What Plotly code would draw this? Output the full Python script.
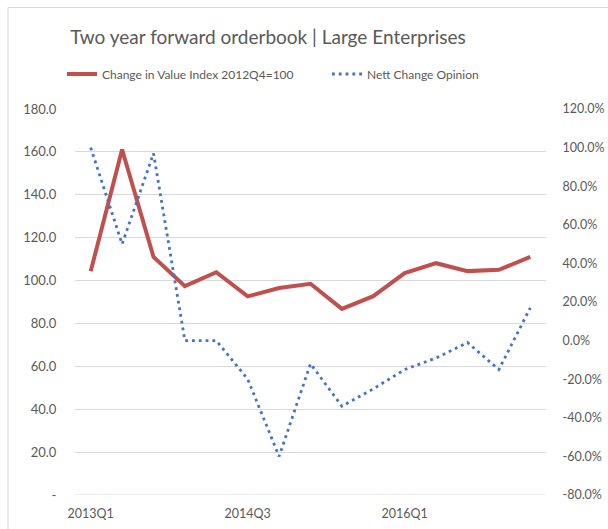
import plotly.graph_objects as go

categories = ["2013Q1", "2013Q2", "2013Q3", "2013Q4", "2014Q1", "2014Q3", "2014Q4",
              "2015Q1", "2015Q2", "2015Q3", "2016Q1", "2016Q2", "2016Q3", "2016Q4", "2017Q1"]
value_index = [104.3, 161.1, 111.0, 97.4, 103.9, 92.6, 96.5, 98.5, 86.8, 92.7,
               103.5, 108.1, 104.4, 105.0, 111.0]
nett_opinion = [100, 50, 97, 0, 0, -20, -60, -12, -34, -25, -15, -9, -1, -15, 17]

left_ticks = [0, 20, 40, 60, 80, 100, 120, 140, 160, 180]
left_ticktext = ["-"] + [f"{v:.1f}" for v in left_ticks[1:]]
right_ticks = [-80, -60, -40, -20, 0, 20, 40, 60, 80, 100, 120]
right_ticktext = [f"{v:.1f}%" for v in right_ticks]
x_label_idx = [0, 5, 10]

FONT = "Lato"
GREY = "#595959"
GRID = "#D9D9D9"
CLEAR = "rgba(0,0,0,0)"

fig = go.Figure()
fig.add_trace(go.Scatter(
    x=categories, y=value_index, name="Change in Value Index 2012Q4=100",
    mode="lines", line=dict(color="#C0504D", width=4), yaxis="y"))
fig.add_trace(go.Scatter(
    x=categories, y=nett_opinion, name="Nett Change Opinion",
    mode="lines", line=dict(color="#4472C4", width=2.8, dash="2.8px,4px"), yaxis="y2"))

W, H = 608, 529
L, R, T, B = 75, 546, 109, 495
pw, ph = R - L, B - T

def px(x):
    return (x - L) / pw

def py(y):
    return (B - y) / ph

# chart border (top and left visible)
fig.add_shape(type="line", xref="paper", yref="paper", x0=px(8), x1=px(W + 5),
              y0=py(7.5), y1=py(7.5), line=dict(color=GRID, width=1))
fig.add_shape(type="line", xref="paper", yref="paper", x0=px(8), x1=px(8),
              y0=py(7.5), y1=py(H + 5), line=dict(color=GRID, width=1))
# bottom gridline at the axis minimum
fig.add_shape(type="line", xref="paper", yref="y", x0=0, x1=1, y0=0, y1=0,
              layer="below", line=dict(color=GRID, width=1))

fig.update_layout(
    width=W, height=H,
    margin=dict(l=L, r=W - R, t=T, b=H - B, pad=0, autoexpand=False),
    paper_bgcolor="white", plot_bgcolor="white",
    font=dict(family=FONT, color=GREY, size=12),
    title=dict(text="Two year forward orderbook | Large Enterprises",
               x=268 / W, xanchor="center", y=1 - 37 / H, yanchor="middle",
               font=dict(family=FONT, size=19, color=GREY)),
    showlegend=True,
    legend=dict(orientation="h", x=px(62), xanchor="left", y=py(74), yanchor="middle",
                font=dict(family=FONT, size=12, color=GREY), bgcolor=CLEAR,
                itemwidth=30, entrywidth=220, entrywidthmode="pixels"),
    xaxis=dict(type="category", categoryorder="array", categoryarray=categories,
               range=[-0.5, len(categories) - 0.5],
               tickvals=[categories[i] for i in x_label_idx],
               ticktext=[categories[i] for i in x_label_idx],
               showgrid=False, zeroline=False, showline=False, automargin=False,
               ticks="outside", ticklen=7, tickcolor=CLEAR,
               tickfont=dict(size=12.5, color=GREY)),
    yaxis=dict(range=[0, 180], tickvals=left_ticks, ticktext=left_ticktext,
               showgrid=True, gridcolor=GRID, gridwidth=1, zeroline=False,
               showline=False, automargin=False,
               ticks="outside", ticklen=15, tickcolor=CLEAR,
               tickfont=dict(size=13, color=GREY)),
    yaxis2=dict(range=[-80, 120], tickvals=right_ticks, ticktext=right_ticktext,
                overlaying="y", side="right", showgrid=False, zeroline=False,
                showline=False, automargin=False,
                ticks="outside", ticklen=13, tickcolor=CLEAR,
                tickfont=dict(size=12.5, color=GREY)),
)

fig.write_html("out.html")
